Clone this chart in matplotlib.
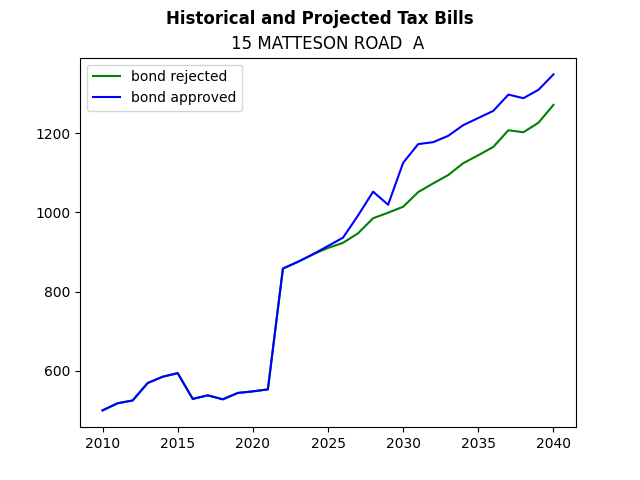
import matplotlib
matplotlib.use("Agg")
import matplotlib.pyplot as plt

years = list(range(2010, 2041))
common = [500, 518, 525, 569, 585, 594, 529, 538, 528, 544, 548, 553, 858, 875, 894]
rejected = common + [910, 923, 947, 985, 999, 1014, 1051, 1073, 1094, 1124, 1144, 1165,
                     1207, 1202, 1226, 1271]
approved = common + [915, 936, 992, 1052, 1019, 1125, 1172, 1177, 1193, 1220, 1238, 1256,
                     1297, 1288, 1309, 1348]

fig, ax = plt.subplots(figsize=(6.4, 4.8), dpi=100)
ax.plot(years, rejected, color="green", label="bond rejected")
ax.plot(years, approved, color="blue", label="bond approved")
fig.suptitle("Historical and Projected Tax Bills", fontweight="bold")
ax.set_title("15 MATTESON ROAD  A")
ax.legend(loc="upper left")
fig.savefig("out.png")
